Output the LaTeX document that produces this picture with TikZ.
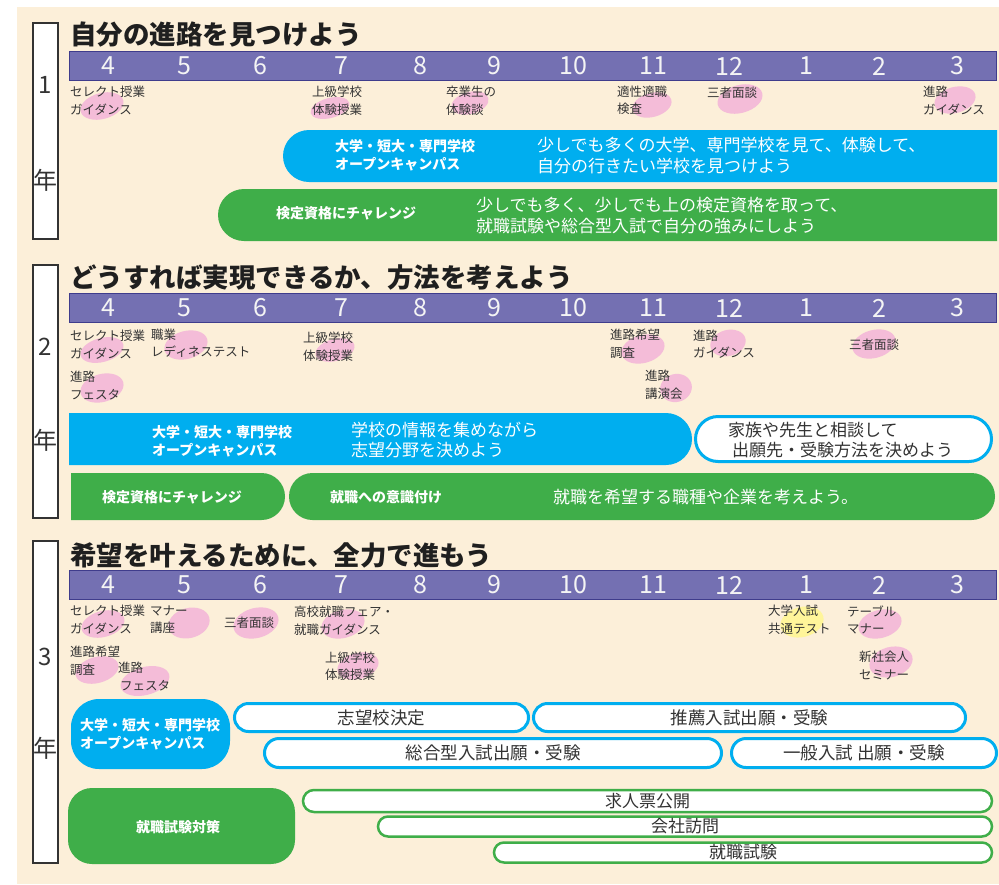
\documentclass[tikz,border=0pt]{standalone}
\usepackage{fontspec}
\setmainfont{Noto Sans CJK JP}
\usetikzlibrary{shapes.misc,shapes.geometric}
\definecolor{cream}{HTML}{FCEFD9}
\definecolor{barpurple}{HTML}{7470B2}
\definecolor{barline}{HTML}{3F3C8C}
\definecolor{cyanblue}{HTML}{00AEEF}
\definecolor{grn}{HTML}{3FAE49}
\definecolor{pinkblob}{HTML}{F4BCD8}
\definecolor{yellowblob}{HTML}{FFF59A}
\definecolor{txt}{HTML}{333333}
\definecolor{digit}{HTML}{F4F4F4}
\tikzset{
  yearbox/.style={draw=txt, line width=2pt, fill=white, minimum width=25pt, inner sep=0},
  yearlbl/.style={text=txt, font=\fontsize{24}{24}\selectfont, inner sep=0},
  monthbar/.style={draw=barline, line width=1pt, fill=barpurple, inner sep=0, minimum width=927pt, minimum height=29pt},
  monthnum/.style={text=digit, font=\fontsize{25}{25}\selectfont, inner sep=0},
  titletext/.style={font=\bfseries\fontsize{26.5}{26.5}\selectfont, text=black!88, anchor=west, inner sep=0},
  evt/.style={font=\fontsize{12.5}{17.5}\selectfont, text=txt, align=left, anchor=west, inner sep=0},
  blob/.style={ellipse, fill=pinkblob, inner sep=0, rotate=15},
  yblob/.style={ellipse, fill=yellowblob, inner sep=0, rotate=15},
  barshape/.style={rounded rectangle, inner sep=0, draw=none},
  boldlbl/.style={font=\bfseries\fontsize{14}{18}\selectfont, text=white, align=left, anchor=west, inner sep=0},
  bartext/.style={font=\fontsize{17}{21}\selectfont, text=white, align=left, anchor=west, inner sep=0},
  bluepill/.style={rounded rectangle, draw=cyanblue, line width=3pt, fill=white, inner sep=0, text=txt, font=\fontsize{17.5}{21}\selectfont},
  greenpill/.style={rounded rectangle, draw=grn, line width=2.5pt, fill=white, inner sep=0, text=txt, font=\fontsize{17}{21}\selectfont},
}
\begin{document}
\begin{tikzpicture}[x=1pt,y=-1pt]
\useasboundingbox (0,0) rectangle (999,884);
\fill[white] (0,0) rectangle (999,884);
\fill[cream] (17,7) rectangle (999,884);

% ---------- year boxes ----------
\node[yearbox, minimum height=216pt] (yb1) at (45.5,131) {};
\node[yearlbl] (y1n) at (45.5,85) {1};
\node[yearlbl] (y1k) at (45.5,180) {年};
\node[yearbox, minimum height=253pt] (yb2) at (45.5,391.5) {};
\node[yearlbl] (y2n) at (45.5,347) {2};
\node[yearlbl] (y2k) at (45.5,440) {年};
\node[yearbox, minimum height=322pt] (yb3) at (45.5,702) {};
\node[yearlbl] (y3n) at (45.5,657) {3};
\node[yearlbl] (y3k) at (45.5,748) {年};

% ---------- titles ----------
\node[titletext] (t1) at (70,35) {自分の進路を見つけよう};
\node[titletext] (t2) at (70,277) {どうすれば実現できるか、方法を考えよう};
\node[titletext] (t3) at (70,555) {希望を叶えるために、全力で進もう};

% ---------- month bars ----------
\node[monthbar] (mb1) at (533,66) {};
\node[monthbar] (mb2) at (533,308) {};
\node[monthbar] (mb3) at (533,585) {};
\foreach \m/\x [count=\i] in {4/108,5/184,6/260,7/341,8/420,9/494,10/573,11/653,12/729,1/806,2/879,3/957}{
  \node[monthnum] (ma\i) at (\x,66) {\m};
  \node[monthnum] (mc\i) at (\x,308) {\m};
  \node[monthnum] (md\i) at (\x,585) {\m};
}

% ---------- year 1 events ----------
\node[blob, minimum width=44pt, minimum height=26pt] (p11) at (102,106) {};
\node[blob, minimum width=40pt, minimum height=20pt] (p12) at (330,108) {};
\node[blob, minimum width=38pt, minimum height=22pt] (p13) at (470,103) {};
\node[blob, minimum width=40pt, minimum height=24pt] (p14) at (652,105) {};
\node[blob, minimum width=46pt, minimum height=28pt] (p15) at (740,99) {};
\node[blob, minimum width=42pt, minimum height=26pt] (p16) at (955,100) {};
\node[evt] (e11) at (70,100.5) {セレクト授業\\ガイダンス};
\node[evt] (e12) at (312,100.5) {上級学校\\体験授業};
\node[evt] (e13) at (446,100.5) {卒業生の\\体験談};
\node[evt] (e14) at (617,100.5) {適性適職\\検査};
\node[evt] (e15) at (707,93) {三者面談};
\node[evt] (e16) at (923,100.5) {進路\\ガイダンス};

% ---------- year 1 bars ----------
\node[barshape, fill=cyanblue, rounded rectangle east arc=none, minimum width=714pt, minimum height=52pt] (b1b) at (640,156) {};
\node[boldlbl] (b1bl) at (335,155) {大学・短大・専門学校\\オープンキャンパス};
\node[bartext] (b1bt) at (537,155.5) {少しでも多くの大学、専門学校を見て、体験して、\\自分の行きたい学校を見つけよう};
\node[barshape, fill=grn, rounded rectangle east arc=none, minimum width=779pt, minimum height=52pt] (b1g) at (607.5,215) {};
\node[boldlbl] (b1gl) at (276,213) {検定資格にチャレンジ};
\node[bartext] (b1gt) at (476,215.5) {少しでも多く、少しでも上の検定資格を取って、\\就職試験や総合型入試で自分の強みにしよう};

% ---------- year 2 events ----------
\node[blob, minimum width=44pt, minimum height=24pt] (p21) at (102,350) {};
\node[blob, minimum width=44pt, minimum height=28pt] (p22) at (186,345) {};
\node[blob, minimum width=40pt, minimum height=22pt] (p23) at (335,350) {};
\node[blob, minimum width=44pt, minimum height=28pt] (p24) at (102,388) {};
\node[blob, minimum width=44pt, minimum height=28pt] (p25) at (643,349) {};
\node[blob, minimum width=36pt, minimum height=26pt] (p26) at (728,343) {};
\node[blob, minimum width=44pt, minimum height=28pt] (p27) at (874,344) {};
\node[blob, minimum width=32pt, minimum height=28pt] (p28) at (676,388) {};
\node[evt] (e21) at (70,344.5) {セレクト授業\\ガイダンス};
\node[evt] (e22) at (151,343) {職業\\レディネステスト};
\node[evt] (e23) at (303,346.5) {上級学校\\体験授業};
\node[evt] (e24) at (70,385.5) {進路\\フェスタ};
\node[evt] (e25) at (610,344) {進路希望\\調査};
\node[evt] (e26) at (693,344) {進路\\ガイダンス};
\node[evt] (e27) at (849,345) {三者面談};
\node[evt] (e28) at (645,385) {進路\\講演会};

% ---------- year 2 bars ----------
\node[barshape, fill=cyanblue, rounded rectangle west arc=none, minimum width=623pt, minimum height=52pt] (b2b) at (380.5,439) {};
\node[boldlbl] (b2bl) at (152,441) {大学・短大・専門学校\\オープンキャンパス};
\node[bartext, font=\fontsize{17}{20.5}\selectfont] (b2bt) at (351,440) {学校の情報を集めながら\\志望分野を決めよう};
\node[rounded rectangle, draw=cyanblue, line width=3pt, fill=white, inner sep=0, minimum width=296pt, minimum height=45pt] (b2w) at (843.5,439) {};
\node[bartext, text=txt, font=\fontsize{17}{20.5}\selectfont] (b2wt) at (728,440) {家族や先生と相談して\\\hspace{4pt}出願先・受験方法を決めよう};
\node[barshape, fill=grn, rounded rectangle west arc=none, minimum width=214pt, minimum height=47pt] (b2g1) at (178,496.5) {};
\node[boldlbl, anchor=center] (b2g1l) at (172,497) {検定資格にチャレンジ};
\node[barshape, fill=grn, minimum width=706pt, minimum height=47pt] (b2g2) at (642,496.5) {};
\node[boldlbl] (b2g2l) at (330,497) {就職への意識付け};
\node[bartext] (b2g2t) at (553,497) {就職を希望する職種や企業を考えよう。};

% ---------- year 3 events ----------
\node[blob, minimum width=44pt, minimum height=26pt] (p31) at (103,624) {};
\node[blob, minimum width=42pt, minimum height=30pt] (p32) at (189,623) {};
\node[blob, minimum width=46pt, minimum height=30pt] (p33) at (256,623) {};
\node[blob, minimum width=44pt, minimum height=28pt] (p34) at (343,624) {};
\node[blob, minimum width=44pt, minimum height=26pt] (p35) at (97,670) {};
\node[blob, minimum width=50pt, minimum height=28pt] (p36) at (145,681) {};
\node[blob, minimum width=42pt, minimum height=26pt] (p37) at (358,666) {};
\node[yblob, minimum width=44pt, minimum height=30pt] (p38) at (802,622) {};
\node[blob, minimum width=44pt, minimum height=28pt] (p39) at (880,624) {};
\node[blob, minimum width=44pt, minimum height=30pt] (p310) at (891,662) {};
\node[evt] (e31) at (70,619.5) {セレクト授業\\ガイダンス};
\node[evt] (e32) at (150,619.5) {マナー\\講座};
\node[evt] (e33) at (224,623) {三者面談};
\node[evt] (e34) at (294,620.5) {高校就職フェア・\\就職ガイダンス};
\node[evt] (e35) at (70,661) {進路希望\\調査};
\node[evt] (e36) at (118,676.5) {進路\\\hspace{2pt}フェスタ};
\node[evt] (e37) at (325,666) {上級学校\\体験授業};
\node[evt] (e38) at (768,619.5) {大学入試\\共通テスト};
\node[evt] (e39) at (847,620) {テーブル\\マナー};
\node[evt] (e310) at (859,665.5) {新社会人\\セミナー};

% ---------- year 3 bars ----------
\node[rectangle, rounded corners=28pt, fill=cyanblue, inner sep=0, minimum width=159pt, minimum height=70pt] (b3b) at (150.5,734) {};
\node[boldlbl] (b3bl) at (80,734) {大学・短大・専門学校\\オープンキャンパス};
\node[bluepill, minimum width=294pt, minimum height=28pt] (s1) at (381.5,717.5) {志望校決定};
\node[bluepill, minimum width=432pt, minimum height=28pt] (s2) at (749.5,717.5) {推薦入試出願・受験};
\node[bluepill, minimum width=457pt, minimum height=29pt] (s3) at (493,753) {総合型入試出願・受験};
\node[bluepill, minimum width=265pt, minimum height=29pt] (s4) at (864,753) {一般入試 出願・受験};
\node[rectangle, rounded corners=24pt, fill=grn, inner sep=0, minimum width=227pt, minimum height=76pt] (b3g) at (181.5,826) {};
\node[boldlbl, anchor=center] (b3gl) at (178,827) {就職試験対策};
\node[greenpill, minimum width=689pt, minimum height=22pt] (k1) at (647.5,801) {求人票公開};
\node[greenpill, minimum width=614pt, minimum height=20pt] (k2) at (685,826.5) {会社訪問};
\node[greenpill, minimum width=498pt, minimum height=20pt] (k3) at (743,852.5) {就職試験};
\end{tikzpicture}
\end{document}
